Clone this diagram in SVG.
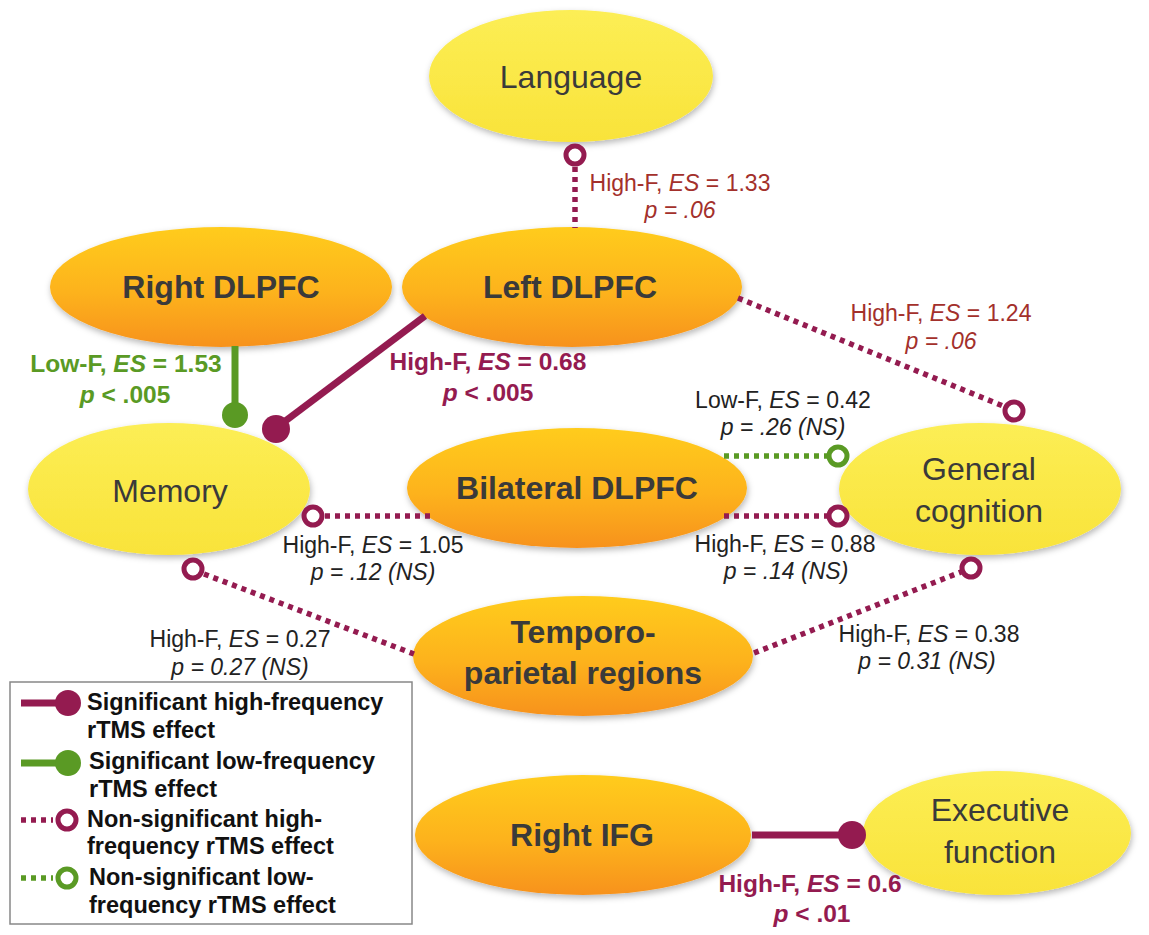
<svg xmlns="http://www.w3.org/2000/svg" width="1149" height="935" viewBox="0 0 1149 935">
<defs>
<linearGradient id="gOr" x1="0" y1="0" x2="0" y2="1">
<stop offset="0" stop-color="#FFCC1E"/>
<stop offset="0.55" stop-color="#FDB21B"/>
<stop offset="1" stop-color="#F7921C"/>
</linearGradient>
<linearGradient id="gYe" x1="0" y1="0" x2="0" y2="1">
<stop offset="0" stop-color="#FCEE55"/>
<stop offset="1" stop-color="#F9E33A"/>
</linearGradient>
<filter id="sh" x="-20%" y="-20%" width="140%" height="150%">
<feDropShadow dx="1" dy="3" stdDeviation="3" flood-color="#000" flood-opacity="0.28"/>
</filter>
<style>
.or{fill:url(#gOr);filter:url(#sh)}
.ye{fill:url(#gYe);filter:url(#sh)}
.nt{font-family:"Liberation Sans",Arial,sans-serif;font-size:32px;fill:#3A3A3A;text-anchor:middle}
.b{font-weight:bold}
.lab{font-family:"Liberation Sans",Arial,sans-serif;font-size:23px;fill:#222;text-anchor:middle}
.labb{font-family:"Liberation Sans",Arial,sans-serif;font-size:24.5px;font-weight:bold;text-anchor:middle}
.rb{fill:#A3302B}
.mr{fill:#941B50}
.gr{fill:#5A9A24}
.i{font-style:italic}
.solidM{stroke:#941B50;stroke-width:7;fill:none}
.solidG{stroke:#5A9A24;stroke-width:7;fill:none}
.dotM{stroke:#941B50;stroke-width:5.5;stroke-dasharray:5 5;fill:none}
.dotG{stroke:#5A9A24;stroke-width:5.5;stroke-dasharray:5 5;fill:none}
.dM{fill:#941B50}
.dG{fill:#5A9A24}
.oM{fill:#fff;stroke:#941B50;stroke-width:5}
.oG{fill:#fff;stroke:#5A9A24;stroke-width:5}
.leg{font-family:"Liberation Sans",Arial,sans-serif;font-size:23.5px;font-weight:bold;fill:#111}
</style>
</defs>
<rect width="1149" height="935" fill="#fff"/>

<g id="language"><ellipse class="ye" cx="571" cy="76" rx="142" ry="66"/><text class="nt" x="571" y="88">Language</text></g>
<g id="right-dlpfc"><ellipse class="or" cx="221" cy="287" rx="171" ry="60"/><text class="nt b" x="221" y="298">Right DLPFC</text></g>
<g id="left-dlpfc"><ellipse class="or" cx="572" cy="287" rx="170" ry="60"/><text class="nt b" x="570" y="298">Left DLPFC</text></g>
<g id="memory"><ellipse class="ye" cx="169" cy="489" rx="141" ry="66"/><text class="nt" x="170" y="502">Memory</text></g>
<g id="bilateral-dlpfc"><ellipse class="or" cx="577" cy="488" rx="170" ry="60"/><text class="nt b" x="577" y="499">Bilateral DLPFC</text></g>
<g id="general-cognition"><ellipse class="ye" cx="980" cy="489" rx="141" ry="66"/><text class="nt" x="979" y="480">General</text><text class="nt" x="979" y="522">cognition</text></g>
<g id="temporo-parietal"><ellipse class="or" cx="583" cy="656" rx="170" ry="60"/><text class="nt b" x="583" y="643">Temporo-</text><text class="nt b" x="583" y="684">parietal regions</text></g>
<g id="right-ifg"><ellipse class="or" cx="583" cy="835" rx="168" ry="60"/><text class="nt b" x="582" y="846">Right IFG</text></g>
<g id="executive-function"><ellipse class="ye" cx="997" cy="833" rx="134" ry="62"/><text class="nt" x="1000" y="821">Executive</text><text class="nt" x="1000" y="863">function</text></g>

<g id="connectors">
<line class="dotM" x1="575" y1="167" x2="575" y2="228"/>
<circle class="oM" cx="575" cy="155" r="9"/>
<line class="solidG" x1="235" y1="346" x2="235" y2="410"/>
<circle class="dG" cx="235" cy="415" r="13"/>
<line class="solidM" x1="425" y1="316" x2="280" y2="425"/>
<circle class="dM" cx="276" cy="429" r="14"/>
<line class="dotM" x1="738" y1="298" x2="1003" y2="406"/>
<circle class="oM" cx="1014" cy="411" r="9"/>
<line class="dotG" x1="724" y1="456" x2="827" y2="456"/>
<circle class="oG" cx="838" cy="456" r="9"/>
<line class="dotM" x1="724" y1="516" x2="827" y2="516"/>
<circle class="oM" cx="838" cy="516" r="9"/>
<line class="dotM" x1="430" y1="516" x2="324" y2="516"/>
<circle class="oM" cx="313" cy="516" r="9"/>
<line class="dotM" x1="204" y1="574" x2="414" y2="654"/>
<circle class="oM" cx="193" cy="569" r="9"/>
<line class="dotM" x1="754" y1="653" x2="961" y2="572"/>
<circle class="oM" cx="971" cy="568" r="9"/>
<line class="solidM" x1="752" y1="835" x2="845" y2="835"/>
<circle class="dM" cx="852" cy="835" r="14"/>
</g>

<g id="labels">
<text class="lab rb" x="680" y="191">High-F, <tspan class="i">ES</tspan> = 1.33</text>
<text class="lab rb i" x="680" y="218">p = .06</text>
<text class="labb gr" x="126" y="372">Low-F, <tspan class="i">ES</tspan> = 1.53</text>
<text class="labb gr" x="125" y="403"><tspan class="i">p</tspan> &lt; .005</text>
<text class="labb mr" x="488" y="370">High-F, <tspan class="i">ES</tspan> = 0.68</text>
<text class="labb mr" x="488" y="401"><tspan class="i">p</tspan> &lt; .005</text>
<text class="lab rb" x="941" y="321">High-F, <tspan class="i">ES</tspan> = 1.24</text>
<text class="lab rb i" x="941" y="349">p = .06</text>
<text class="lab" x="783" y="408">Low-F, <tspan class="i">ES</tspan> = 0.42</text>
<text class="lab i" x="783" y="435">p = .26 (NS)</text>
<text class="lab" x="785" y="552">High-F, <tspan class="i">ES</tspan> = 0.88</text>
<text class="lab i" x="786" y="579">p = .14 (NS)</text>
<text class="lab" x="373" y="553">High-F, <tspan class="i">ES</tspan> = 1.05</text>
<text class="lab i" x="373" y="580">p = .12 (NS)</text>
<text class="lab" x="240" y="647">High-F, <tspan class="i">ES</tspan> = 0.27</text>
<text class="lab i" x="240" y="675">p = 0.27 (NS)</text>
<text class="lab" x="929" y="642">High-F, <tspan class="i">ES</tspan> = 0.38</text>
<text class="lab i" x="927" y="669">p = 0.31 (NS)</text>
<text class="labb mr" x="810" y="892">High-F, <tspan class="i">ES</tspan> = 0.6</text>
<text class="labb mr" x="812" y="922"><tspan class="i">p</tspan> &lt; .01</text>
</g>

<g id="legend">
<rect x="10" y="682" width="402" height="242" fill="#fff" stroke="#888" stroke-width="1.5"/>
<line class="solidM" x1="21" y1="703" x2="64" y2="703"/>
<circle class="dM" cx="68" cy="703" r="13"/>
<text class="leg" x="87" y="710">Significant high-frequency</text>
<text class="leg" x="87" y="738">rTMS effect</text>
<line class="solidG" x1="21" y1="763" x2="64" y2="763"/>
<circle class="dG" cx="68" cy="763" r="13"/>
<text class="leg" x="89" y="769">Significant low-frequency</text>
<text class="leg" x="89" y="797">rTMS effect</text>
<line class="dotM" x1="21" y1="820" x2="53" y2="820"/>
<circle class="oM" cx="67" cy="820" r="9"/>
<text class="leg" x="87" y="827">Non-significant high-</text>
<text class="leg" x="87" y="854">frequency rTMS effect</text>
<line class="dotG" x1="21" y1="878" x2="53" y2="878"/>
<circle class="oG" cx="67" cy="878" r="9"/>
<text class="leg" x="89" y="885">Non-significant low-</text>
<text class="leg" x="89" y="913">frequency rTMS effect</text>
</g>
</svg>
